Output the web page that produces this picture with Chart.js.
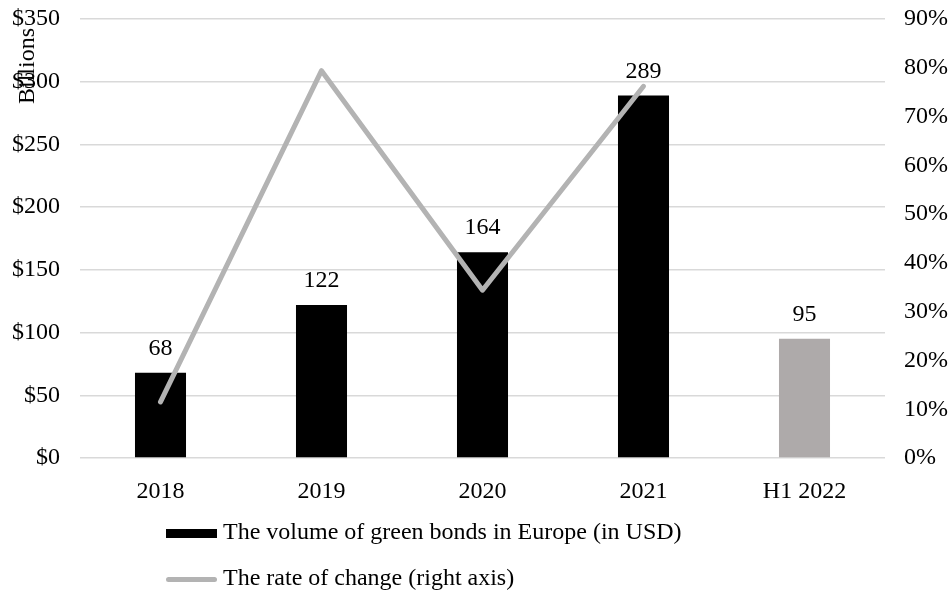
<!DOCTYPE html>
<html>
<head>
<meta charset="utf-8">
<script src="https://cdn.jsdelivr.net/npm/chart.js@4/dist/chart.umd.min.js"></script>
<style>
  html, body { margin: 0; padding: 0; background: #fff; }
  #wrap { position: relative; width: 952px; height: 591px; overflow: hidden; font-family: "Liberation Serif", "Times New Roman", serif; }
  #chart { position: absolute; left: 0; top: 0; }
  .ytitle { position: absolute; left: 26px; top: 66px; font-size: 24px; line-height: 1; white-space: nowrap;
            transform: translate(-50%, -50%) rotate(-90deg); }
  .leg { position: absolute; left: 166px; font-size: 24px; white-space: nowrap; line-height: 24px; }
  .leg span.sw { display: inline-block; vertical-align: middle; margin-right: 6px; }
</style>
</head>
<body>
<div id="wrap">
  <canvas id="chart" width="952" height="591"></canvas>
  <div class="ytitle">Billions</div>
  <div class="leg" style="top:519px"><span class="sw" style="width:51px;height:9px;background:#000"></span>The volume of green bonds in Europe (in USD)</div>
  <div class="leg" style="top:565px"><span class="sw" style="width:51px;height:5px;border-radius:3px;background:#b3b3b3"></span>The rate of change (right axis)</div>
</div>
<script>
// data
const years = ['2018', '2019', '2020', '2021', 'H1 2022'];
const volumes = [68, 122, 164, 289, 95];          // billions USD
const rateOfChange = [11.5, 79.4, 34.4, 76.2, null]; // percent, right axis
const barColors = ['#000000', '#000000', '#000000', '#000000', '#AEAAAA'];
const leftTicks = [0, 50, 100, 150, 200, 250, 300, 350];
const rightTicks = [0, 10, 20, 30, 40, 50, 60, 70, 80, 90];

const FONT = '"Liberation Serif", "Times New Roman", serif';

// values on top of the bars
const barLabels = {
    id: 'barLabels',
    afterDatasetsDraw(chart) {
        const ctx = chart.ctx;
        const meta = chart.getDatasetMeta(0);
        ctx.save();
        ctx.font = '24px ' + FONT;
        ctx.fillStyle = '#000';
        ctx.textAlign = 'center';
        ctx.textBaseline = 'alphabetic';
        meta.data.forEach((bar, i) => {
            ctx.fillText(String(volumes[i]), bar.x, bar.y - 18);
        });
        ctx.restore();
    }
};

// fixed axis sizes so the plot area lands where it is in the reference
function fixVertical(width) {
    return s => {
        s.width = width;
        s.paddingTop = 0;
        s.paddingBottom = 0;
    };
}

const chartConfig = {
    type: 'bar',
    data: {
        labels: years,
        datasets: [{
            type: 'bar',
            label: 'The volume of green bonds in Europe (in USD)',
            data: volumes,
            backgroundColor: barColors,
            yAxisID: 'y',
            categoryPercentage: 1,
            barPercentage: 0.317,
            order: 1
        }, {
            type: 'line',
            label: 'The rate of change (right axis)',
            data: rateOfChange,
            borderColor: '#b3b3b3',
            borderWidth: 5,
            borderCapStyle: 'round',
            borderJoinStyle: 'round',
            pointRadius: 0,
            tension: 0,
            yAxisID: 'y1',
            order: 0
        }]
    },
    options: {
        responsive: false,
        animation: false,
        layout: { padding: { top: 19, left: 0, right: 0, bottom: 0 } },
        plugins: {
            legend: { display: false },
            tooltip: { enabled: false }
        },
        scales: {
            x: {
                grid: { display: false },
                border: { display: false },
                ticks: { color: '#000', font: { family: FONT, size: 24 }, padding: 11 },
                afterFit: s => { s.height = 133; }
            },
            y: {
                position: 'left',
                min: 0,
                max: 350,
                afterBuildTicks: s => { s.ticks = leftTicks.map(v => ({ value: v })); },
                grid: { color: '#d9d9d9', lineWidth: 1.5, drawTicks: false },
                border: { display: false },
                ticks: {
                    color: '#000',
                    font: { family: FONT, size: 24 },
                    padding: 20,
                    callback: v => '$' + v
                },
                afterFit: fixVertical(80)
            },
            y1: {
                position: 'right',
                min: 0,
                max: 90,
                afterBuildTicks: s => { s.ticks = rightTicks.map(v => ({ value: v })); },
                grid: { drawOnChartArea: false, drawTicks: false },
                border: { display: false },
                ticks: {
                    color: '#000',
                    font: { family: FONT, size: 24 },
                    padding: 19,
                    callback: v => v + '%'
                },
                afterFit: fixVertical(67)
            }
        }
    },
    plugins: [barLabels]
};

new Chart(document.getElementById('chart'), chartConfig);
</script>
</body>
</html>
